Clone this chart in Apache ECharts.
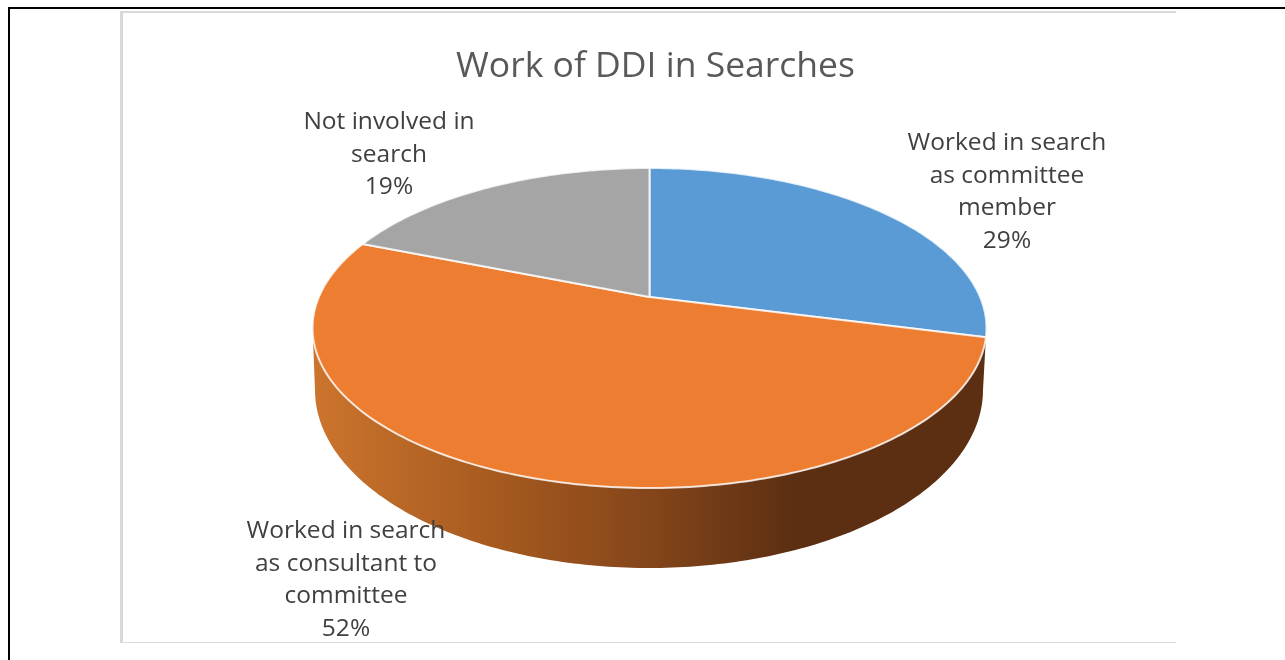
<!DOCTYPE html>
<html>
<head>
<meta charset="utf-8">
<style>html,body{margin:0;padding:0;background:#fff}#c{width:1285px;height:660px}</style>
<script src="https://cdn.jsdelivr.net/npm/echarts@6/dist/echarts.min.js"></script>
</head>
<body>
<div id="c"></div>
<script>
const chartTitle = 'Work of DDI in Searches';
const categories = ['Worked in search\nas committee\nmember', 'Worked in search\nas consultant to\ncommittee', 'Not involved in\nsearch'];
const seriesValues = [29, 52, 19];

const sliceColors = ['#5B9BD5', '#ED7D31', '#A5A5A5'];
const labelCenters = [[1007, 192], [346, 580], [389, 155]];
const FONT = '"Open Sans", sans-serif';

// Perspective projection of the pie disc (angle clockwise from the back of the disc)
const apex = [649.5, 297], K = 0.19375, A = 154, B = 330.6;
function topPoint(deg) {
  const t = deg * Math.PI / 180, X = Math.sin(t), Y = -Math.cos(t), w = 1 - K * Y;
  return [apex[0] + B * X / w, apex[1] + A * Y / w];
}
const lower = { cx: 649, cy: 390, rx: 334, ry: 178 };
const VIS_MIN = 101, VIS_MAX = 259;
const total = seriesValues.reduce((a, b) => a + b, 0);
const sideGradient = new echarts.graphic.LinearGradient(316, 0, 985, 0, [
  { offset: 0, color: '#CB742D' },
  { offset: 0.28, color: '#A5591F' },
  { offset: 0.5, color: '#84451A' },
  { offset: 0.715, color: '#5C2F12' },
  { offset: 1, color: '#5C2F12' }
], true);

function renderSlice(params, api) {
  const i = params.dataIndex;
  const v = api.value(0);
  let before = 0;
  for (let j = 0; j < i; j++) before += seriesValues[j];
  const a0 = before / total * 360, a1 = (before + v) / total * 360;
  const pts = [apex.slice()];
  for (let a = a0; a <= a1 + 1e-6; a += 1) pts.push(topPoint(a));
  pts.push(topPoint(a1));
  const children = [];
  const s0 = Math.max(a0, VIS_MIN), s1 = Math.min(a1, VIS_MAX);
  if (s1 - s0 > 10) {
    const side = [];
    for (let a = s0; a <= s1; a += 1) side.push(topPoint(a));
    side.push(topPoint(s1));
    for (let p = 180; p >= 0; p -= 1) {
      const r = p * Math.PI / 180;
      side.push([lower.cx + lower.rx * Math.cos(r), lower.cy + lower.ry * Math.sin(r)]);
    }
    children.push({ type: 'polygon', z2: 0, shape: { points: side }, style: { fill: sideGradient } });
  }
  children.push({
    type: 'polygon', z2: 1, shape: { points: pts },
    style: { fill: sliceColors[i], stroke: '#fff', lineWidth: 2, lineJoin: 'round', strokeOpacity: 0.8 }
  });
  const pct = Math.round(v / total * 100) + '%';
  children.push({
    type: 'text', z2: 3,
    style: {
      x: labelCenters[i][0], y: labelCenters[i][1],
      text: categories[i] + '\n' + pct,
      fill: '#404040', font: '24.5px ' + FONT, lineHeight: 32.5,
      align: 'center', verticalAlign: 'middle'
    }
  });
  return { type: 'group', children };
}

const chart = echarts.init(document.getElementById('c'), null, { renderer: 'canvas' });
chart.setOption({
  animation: false,
  backgroundColor: '#ffffff',
  title: {
    text: chartTitle, left: 650.5, top: 39, textAlign: 'center',
    textStyle: { color: '#595959', fontFamily: FONT, fontSize: 35.5, fontWeight: 'normal', lineHeight: 46 }
  },
  graphic: [
    { type: 'rect', z: 0, shape: { x: 8, y: 7, width: 1277, height: 2 }, style: { fill: '#000' } },
    { type: 'rect', z: 0, shape: { x: 8, y: 7, width: 2, height: 653 }, style: { fill: '#000' } },
    { type: 'rect', z: 0, shape: { x: 120, y: 11, width: 3, height: 632 }, style: { fill: '#D9D9D9' } },
    { type: 'rect', z: 0, shape: { x: 120, y: 11, width: 1056, height: 2 }, style: { fill: '#D9D9D9' } },
    { type: 'rect', z: 0, shape: { x: 120, y: 642, width: 1056, height: 1 }, style: { fill: '#D9D9D9' } }
  ],
  series: [{
    type: 'custom',
    coordinateSystem: 'none',
    renderItem: renderSlice,
    encode: { value: 0 },
    data: seriesValues.map((v, i) => ({ name: categories[i], value: [v] }))
  }]
});
</script>
</body>
</html>
